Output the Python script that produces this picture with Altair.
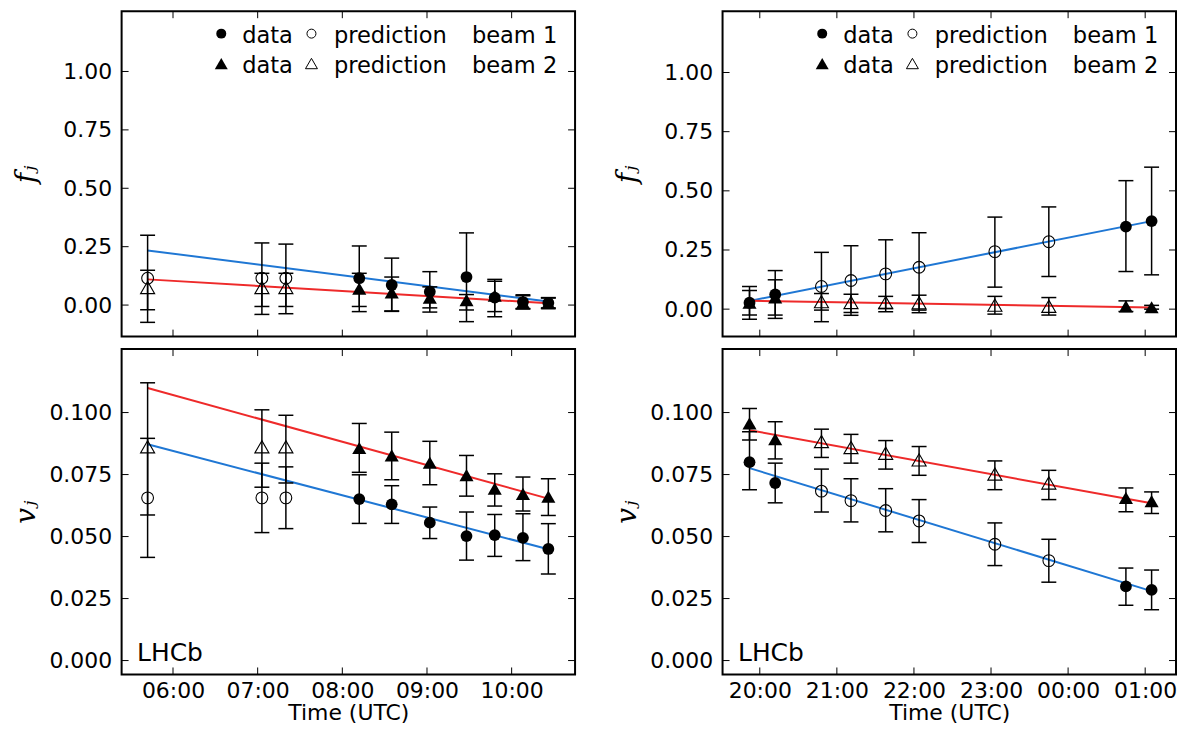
import altair as alt
import pandas as pd

# ---------------- data ----------------
# Left fill
L_time = ["05:42", "07:03", "07:20", "08:12", "08:35", "09:02", "09:28", "09:48", "10:08", "10:26"]
L_kind = ["prediction"] * 3 + ["data"] * 7
L_f1 = [0.115, 0.115, 0.115, 0.115, 0.086, 0.057, 0.120, 0.032, 0.013, 0.009]
L_f1_lo = [-0.074, -0.040, -0.037, -0.028, -0.027, -0.030, -0.071, -0.050, -0.017, -0.015]
L_f1_hi = [0.299, 0.266, 0.261, 0.253, 0.201, 0.143, 0.309, 0.110, 0.044, 0.032]
L_f2 = [0.075, 0.075, 0.075, 0.070, 0.054, 0.032, 0.021, 0.040, 0.010, 0.008]
L_f2_lo = [-0.020, -0.006, -0.006, -0.006, -0.025, -0.012, -0.021, -0.028, -0.015, -0.012]
L_f2_hi = [0.149, 0.136, 0.136, 0.136, 0.120, 0.078, 0.045, 0.102, 0.040, 0.030]
L_v1 = [0.0656, 0.0656, 0.0656, 0.0651, 0.0630, 0.0556, 0.0502, 0.0506, 0.0495, 0.0450]
L_v1_lo = [0.0416, 0.0516, 0.0532, 0.0553, 0.0553, 0.0492, 0.0405, 0.0420, 0.0403, 0.0349]
L_v1_hi = [0.0896, 0.0796, 0.0781, 0.0749, 0.0705, 0.0619, 0.0599, 0.0589, 0.0592, 0.0552]
L_v2 = [0.0862, 0.0862, 0.0862, 0.0857, 0.0827, 0.0798, 0.0748, 0.0693, 0.0672, 0.0661]
L_v2_lo = [0.0587, 0.0699, 0.0716, 0.0759, 0.0729, 0.0709, 0.0663, 0.0623, 0.0603, 0.0585]
L_v2_hi = [0.1120, 0.1011, 0.0989, 0.0956, 0.0921, 0.0884, 0.0827, 0.0753, 0.0740, 0.0733]
L_line_time = ["05:42", "10:26"]
L_line_f1 = [0.234, 0.015]
L_line_f2 = [0.110, 0.008]
L_line_v1 = [0.0872, 0.0449]
L_line_v2 = [0.1099, 0.0653]

# Right fill
R_time = ["19:52", "20:12", "20:48", "21:11", "21:38", "22:04", "23:03", "23:45", "00:45", "01:05"]
R_kind = ["data"] * 2 + ["prediction"] * 6 + ["data"] * 2
R_f1 = [0.027, 0.062, 0.096, 0.121, 0.149, 0.177, 0.243, 0.285, 0.349, 0.372]
R_f1_lo = [-0.043, -0.039, -0.053, -0.026, -0.011, -0.015, 0.093, 0.138, 0.159, 0.145]
R_f1_hi = [0.096, 0.163, 0.240, 0.268, 0.293, 0.323, 0.389, 0.432, 0.543, 0.600]
R_f2 = [0.027, 0.050, 0.032, 0.028, 0.028, 0.027, 0.017, 0.012, 0.012, 0.008]
R_f2_lo = [-0.025, -0.025, -0.004, -0.014, 0.003, -0.004, -0.021, -0.025, -0.010, 0.000]
R_f2_hi = [0.079, 0.124, 0.066, 0.063, 0.054, 0.059, 0.054, 0.049, 0.035, 0.016]
R_v1 = [0.0800, 0.0716, 0.0683, 0.0645, 0.0605, 0.0563, 0.0469, 0.0403, 0.0299, 0.0285]
R_v1_lo = [0.0689, 0.0636, 0.0599, 0.0559, 0.0519, 0.0476, 0.0383, 0.0316, 0.0223, 0.0205]
R_v1_hi = [0.0923, 0.0796, 0.0772, 0.0733, 0.0693, 0.0649, 0.0555, 0.0489, 0.0373, 0.0365]
R_v2 = [0.0956, 0.0893, 0.0883, 0.0859, 0.0836, 0.0809, 0.0752, 0.0716, 0.0656, 0.0643]
R_v2_lo = [0.0889, 0.0813, 0.0819, 0.0796, 0.0772, 0.0747, 0.0689, 0.0649, 0.0600, 0.0593]
R_v2_hi = [0.1016, 0.0963, 0.0933, 0.0912, 0.0887, 0.0863, 0.0805, 0.0767, 0.0696, 0.0680]
R_line_time = ["19:52", "01:05"]
R_line_f1 = [0.035, 0.372]
R_line_f2 = [0.035, 0.007]
R_line_v1 = [0.0776, 0.0280]
R_line_v2 = [0.0929, 0.0634]

# axes
L_xticks = [6, 7, 8, 9, 10]
R_xticks = [20, 21, 22, 23, 24, 25]
L_xdomain = [5.393, 10.749]
R_xdomain = [19.517, 25.40]
F_yticks = [0.0, 0.25, 0.5, 0.75, 1.0]
V_yticks = [0.0, 0.025, 0.05, 0.075, 0.1]
FL_ydomain = [-0.135, 1.258]
FR_ydomain = [-0.116, 1.259]
V_ydomain = [-0.0056, 0.1256]
BEAMS = ["beam 1", "beam 2"]

# ---------------- styling ----------------
W, H = 455, 326.5
TL = 7
BLUE = "#1f77d4"
RED = "#ee2a2a"
FONT = "DejaVu Sans"
FS = 22
LFS = 22.6


def hours(t, wrap=False):
    h, m = (int(p) for p in t.split(":"))
    v = h + m / 60.0
    if wrap and h < 12:
        v += 24
    return v


def panel(times, kinds, s1, lo1, hi1, s2, lo2, hi2, ltimes, lb1, lb2,
          xdom, ydom, xticks, yticks, yfmt, ytitle, bottom, legend, lhcb, wrap):
    n = len(times)
    t = [hours(x, wrap) for x in times]
    pts = pd.DataFrame({
        "t": t * 2, "val": s1 + s2, "lo": lo1 + lo2, "hi": hi1 + hi2,
        "beam": [BEAMS[0]] * n + [BEAMS[1]] * n, "kind": kinds * 2,
    })
    lt = [hours(x, wrap) for x in ltimes]
    lines = pd.DataFrame({"t": lt * 2, "val": lb1 + lb2,
                          "beam": [BEAMS[0]] * 2 + [BEAMS[1]] * 2})
    xs = alt.Scale(domain=xdom, nice=False, zero=False)
    ys = alt.Scale(domain=ydom, nice=False, zero=False)

    def X(f):
        return alt.X(f, type="quantitative", scale=xs, axis=None)

    def Y(f):
        return alt.Y(f, type="quantitative", scale=ys, axis=None)

    yaxis = alt.Axis(values=yticks, format=yfmt, ticks=False, domain=False, grid=False,
                     orient="left",
                     labelFont=FONT, labelFontSize=FS, labelColor="black", labelPadding=10,
                     labelFlush=False, labelOverlap=False,
                     title=ytitle, titleFont="DejaVu Serif", titleFontStyle="italic",
                     titleFontWeight="normal", titleFontSize=28, titleColor="black",
                     titleX=-95, titleAngle=270, titleBaseline="middle")
    if bottom:
        xaxis = alt.Axis(values=xticks, ticks=False, domain=False, grid=False, orient="bottom",
                         labelExpr="(floor(datum.value) % 24 < 10 ? '0' : '') + (floor(datum.value) % 24) + ':00'",
                         labelFont=FONT, labelFontSize=FS, labelColor="black", labelPadding=6,
                         labelFlush=False, labelOverlap=False,
                         title="Time (UTC)", titleFont=FONT, titleFontSize=FS, titleFontWeight="normal",
                         titleColor="black", titlePadding=1)
    else:
        xaxis = None

    shape = alt.Shape("beam:N", scale=alt.Scale(domain=BEAMS, range=["circle", "triangle-up"]), legend=None)
    size = alt.Size("beam:O", scale=alt.Scale(domain=BEAMS, range=[140, 200]), legend=None)

    layers = []
    # first layer carries the axes
    layers.append(alt.Chart(lines).mark_line(strokeWidth=2).encode(
        x=alt.X("t:Q", scale=xs, axis=xaxis), y=alt.Y("val:Q", scale=ys, axis=yaxis),
        color=alt.Color("beam:N", scale=alt.Scale(domain=BEAMS, range=[BLUE, RED]), legend=None),
        detail="beam:N"))
    layers.append(alt.Chart(pts).mark_rule(color="black", strokeWidth=1.5).encode(
        x=X("t"), y=Y("lo"), y2="hi"))
    for f in ["lo", "hi"]:
        layers.append(alt.Chart(pts).mark_tick(orient="horizontal", color="black", size=15,
                                               thickness=1.5, opacity=1).encode(x=X("t"), y=Y(f)))
    layers.append(alt.Chart(pts).transform_filter(alt.datum.kind == "prediction").mark_point(
        filled=False, stroke="black", strokeWidth=1.1, opacity=1).encode(
        x=X("t"), y=Y("val"), shape=shape, size=size))
    layers.append(alt.Chart(pts).transform_filter(alt.datum.kind == "data").mark_point(
        filled=True, color="black", opacity=1).encode(
        x=X("t"), y=Y("val"), shape=shape, size=size))

    ytick_df = pd.DataFrame({"v": yticks})
    xtick_df = pd.DataFrame({"v": xticks})
    layers.append(alt.Chart(ytick_df).mark_rule(color="black", strokeWidth=1).encode(
        y=Y("v"), x=alt.value(0), x2=alt.value(TL)))
    layers.append(alt.Chart(ytick_df).mark_rule(color="black", strokeWidth=1).encode(
        y=Y("v"), x=alt.value(W - TL), x2=alt.value(W)))
    layers.append(alt.Chart(xtick_df).mark_rule(color="black", strokeWidth=1).encode(
        x=X("v"), y=alt.value(H - TL), y2=alt.value(H)))
    layers.append(alt.Chart(xtick_df).mark_rule(color="black", strokeWidth=1).encode(
        x=X("v"), y=alt.value(0), y2=alt.value(TL)))

    dummy = pd.DataFrame({"a": [0]})
    if legend:
        rows = [("beam 1", "circle", 100, 81, 22.5, 32), ("beam 2", "triangle-up", 170, 144, 52.5, 62)]
        for label, shp, fsz, osz, yc, yb in rows:
            layers.append(alt.Chart(dummy).mark_point(shape=shp, filled=True, color="black",
                                                      opacity=1, size=fsz).encode(
                x=alt.value(100), y=alt.value(yc)))
            layers.append(alt.Chart(dummy).mark_point(shape=shp, filled=False, stroke="black",
                                                      strokeWidth=1, opacity=1, size=osz).encode(
                x=alt.value(190.5), y=alt.value(yc)))
            for txt, xp in [("data", 121), ("prediction", 213), (label, 351.5)]:
                layers.append(alt.Chart(dummy).mark_text(text=txt, align="left", baseline="alphabetic",
                                                         font=FONT, fontSize=LFS, color="black").encode(
                    x=alt.value(xp), y=alt.value(yb)))
    if lhcb:
        layers.append(alt.Chart(dummy).mark_text(text="LHCb", align="left", baseline="alphabetic",
                                                 font=FONT, fontSize=25, color="black").encode(
            x=alt.value(15.5), y=alt.value(H - 13.5)))
    return alt.layer(*layers).resolve_axis(x="independent", y="independent").properties(width=W, height=H)


tl = panel(L_time, L_kind, L_f1, L_f1_lo, L_f1_hi, L_f2, L_f2_lo, L_f2_hi,
           L_line_time, L_line_f1, L_line_f2, L_xdomain, FL_ydomain, L_xticks, F_yticks,
           ".2f", "fⱼ", False, True, False, False)
bl = panel(L_time, L_kind, L_v1, L_v1_lo, L_v1_hi, L_v2, L_v2_lo, L_v2_hi,
           L_line_time, L_line_v1, L_line_v2, L_xdomain, V_ydomain, L_xticks, V_yticks,
           ".3f", "vⱼ", True, False, True, False)
tr = panel(R_time, R_kind, R_f1, R_f1_lo, R_f1_hi, R_f2, R_f2_lo, R_f2_hi,
           R_line_time, R_line_f1, R_line_f2, R_xdomain, FR_ydomain, R_xticks, F_yticks,
           ".2f", "fⱼ", False, True, False, True)
br = panel(R_time, R_kind, R_v1, R_v1_lo, R_v1_hi, R_v2, R_v2_lo, R_v2_hi,
           R_line_time, R_line_v1, R_line_v2, R_xdomain, V_ydomain, R_xticks, V_yticks,
           ".3f", "vⱼ", True, False, True, True)

chart = alt.hconcat(
    alt.vconcat(tl, bl, spacing=9),
    alt.vconcat(tr, br, spacing=9),
    spacing=36,
).properties(padding={"left": 4, "top": 0, "right": 0, "bottom": 0}).configure(
    font=FONT, background="white"
).configure_view(stroke="black", strokeWidth=2)

chart.save("out.html", embed_options={"renderer": "svg", "actions": False})
